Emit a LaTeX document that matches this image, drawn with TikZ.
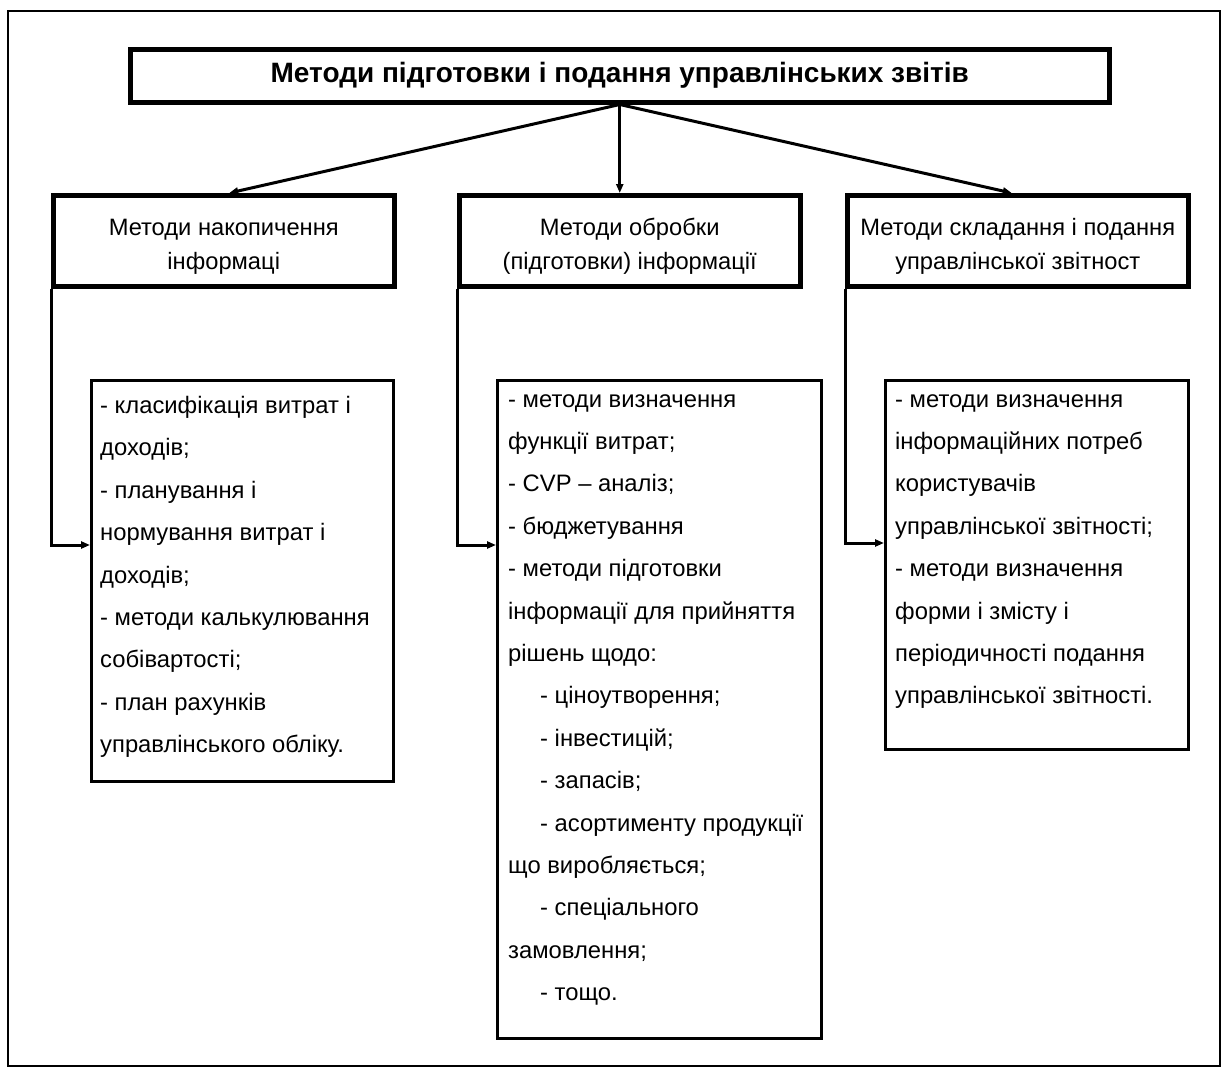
\documentclass[tikz,border=0pt]{standalone}
\usepackage{fontspec}
\setmainfont{Liberation Sans}
\usetikzlibrary{arrows.meta}
\begin{document}
\begin{tikzpicture}[x=1pt,y=-1pt,
  headbox/.style={draw, line width=4.5pt, minimum width=341pt, minimum height=91pt, inner sep=0pt,
    anchor=north west},
  headtext/.style={inner sep=0pt, align=center, font=\fontsize{23.7}{34}\selectfont},
  listbox/.style={draw, line width=3.2pt, inner sep=0pt, anchor=north west},
  listtext/.style={anchor=north west, inner sep=0pt, align=left,
    font=\fontsize{23.8}{42.4}\selectfont},
  conn/.style={line width=3pt, -{Triangle[length=9pt,width=7pt]}}
]
\useasboundingbox (0,0) rectangle (1229,1068);
\draw[line width=2.2pt] (8,11) rectangle (1220,1066);

\node[draw, line width=4.5pt, minimum width=979pt, minimum height=53pt, inner sep=0pt, anchor=north west,
  font=\fontsize{28}{32}\selectfont\bfseries] (title) at (128,47)
  {Методи підготовки і подання управлінських звітів};

\node[headbox] (h1) at (51,193) {};
\node[headbox] (h2) at (457,193) {};
\node[headbox] (h3) at (845,193) {};
\node[headtext] (h1t) at ([yshift=-6pt]h1.center) {Методи накопичення\\інформаці};
\node[headtext] (h2t) at ([yshift=-6pt]h2.center) {Методи обробки\\(підготовки) інформації};
\node[headtext] (h3t) at ([yshift=-6pt]h3.center) {Методи складання і подання\\управлінської звітност};

\node[listbox, minimum width=302pt, minimum height=401pt] (l1) at (90,379) {};
\node[listbox, minimum width=324pt, minimum height=658pt] (l2) at (496,379) {};
\node[listbox, minimum width=303pt, minimum height=369pt] (l3) at (884,379) {};

\node[listtext] (t1) at ([xshift=10pt,yshift=-17pt]l1.north west)
  {- класифікація витрат і\\доходів;\\- планування і\\нормування витрат і\\доходів;\\- методи калькулювання\\собівартості;\\- план рахунків\\управлінського обліку.};
\node[listtext] (t2) at ([xshift=12pt,yshift=-15pt]l2.north west)
  {- методи визначення\\функції витрат;\\- CVP – аналіз;\\- бюджетування\\- методи підготовки\\інформації для прийняття\\рішень щодо:\\\hspace*{32pt}- ціноутворення;\\\hspace*{32pt}- інвестицій;\\\hspace*{32pt}- запасів;\\\hspace*{32pt}- асортименту продукції\\що виробляється;\\\hspace*{32pt}- спеціального\\замовлення;\\\hspace*{32pt}- тощо.};
\node[listtext] (t3) at ([xshift=11pt,yshift=-15pt]l3.north west)
  {- методи визначення\\інформаційних потреб\\користувачів\\управлінської звітності;\\- методи визначення\\форми і змісту і\\періодичності подання\\управлінської звітності.};

\draw[conn] (title.south) -- ([xshift=5.5pt]h1.north);
\draw[conn] (title.south) -- (title.south |- h2.north);
\draw[conn] (title.south) -- ([xshift=-6pt]h3.north);

\draw[conn] (h1.south west) |- ([yshift=-166pt]l1.north west);
\draw[conn] (h2.south west) |- ([yshift=-166pt]l2.north west);
\draw[conn] (h3.south west) |- ([yshift=-164pt]l3.north west);
\end{tikzpicture}
\end{document}
